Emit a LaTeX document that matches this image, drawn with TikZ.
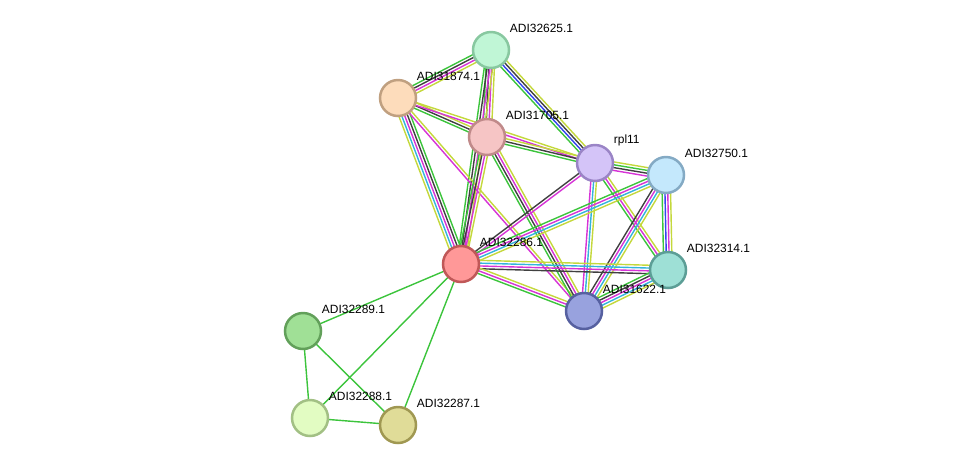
\documentclass[tikz,border=0pt]{standalone}
\usepackage{fontspec}
\newfontfamily\arialfont{Liberation Sans}
\usetikzlibrary{calc}

% evidence colours
\definecolor{nbr}{HTML}{3CC43C}
\definecolor{coex}{HTML}{404040}
\definecolor{expt}{HTML}{D633D6}
\definecolor{dbase}{HTML}{33B4DC}
\definecolor{txt}{HTML}{C4D83C}
\definecolor{cooc}{HTML}{3344EE}

\pgfdeclarelayer{background}
\pgfsetlayers{background,main}

% several parallel lines between two nodes, one per colour
\newcommand\link[3]{%
  \foreach \col [count=\k] in {#3}{\xdef\nlines{\k}}
  \foreach \col [count=\k] in {#3}{
    \pgfmathsetmacro\off{(\k-(\nlines+1)/2)*1.6}
    \draw[edge,\col] ($(#1.center)!\off pt!90:(#2.center)$) -- ($(#2.center)!\off pt!-90:(#1.center)$);
  }}

\begin{document}
\begin{tikzpicture}[x=0.02cm,y=-0.02cm,
    prot/.style = {circle, minimum size=0.72cm, inner sep=0pt, line width=0.05cm},
    tag/.style  = {anchor=south west, inner sep=0pt, xshift=0.1cm, yshift=0.06cm,
                   font=\arialfont\fontsize{6.8}{8}\selectfont},
    edge/.style = {line width=0.8pt}]

   \useasboundingbox (0,0) rectangle (975,471);

   % proteins
   \node[prot, fill={rgb,255:red,192;green,246;blue,214}, draw={rgb,255:red,136;green,200;blue,160},
         label={[tag]45:ADI32625.1}] (n32625) at (491,50) {};
   \node[prot, fill={rgb,255:red,253;green,220;blue,187}, draw={rgb,255:red,192;green,160;blue,128},
         label={[tag]45:ADI31874.1}] (n31874) at (398,98) {};
   \node[prot, fill={rgb,255:red,246;green,197;blue,197}, draw={rgb,255:red,192;green,138;blue,138},
         label={[tag]45:ADI31705.1}] (n31705) at (487,137) {};
   \node[prot, fill={rgb,255:red,212;green,196;blue,248}, draw={rgb,255:red,154;green,132;blue,198},
         label={[tag]45:rpl11}] (rpl) at (595,163) {};
   \node[prot, fill={rgb,255:red,196;green,232;blue,252}, draw={rgb,255:red,132;green,170;blue,196},
         label={[tag]45:ADI32750.1}] (n32750) at (666,175) {};
   \node[prot, fill={rgb,255:red,255;green,152;blue,152}, draw={rgb,255:red,192;green,88;blue,88},
         label={[tag]45:ADI32286.1}] (n32286) at (461,264) {};
   \node[prot, fill={rgb,255:red,158;green,224;blue,214}, draw={rgb,255:red,92;green,158;blue,150},
         label={[tag]45:ADI32314.1}] (n32314) at (668,270) {};
   \node[prot, fill={rgb,255:red,152;green,162;blue,222}, draw={rgb,255:red,86;green,96;blue,160},
         label={[tag]45:ADI31622.1}] (n31622) at (584,311) {};
   \node[prot, fill={rgb,255:red,160;green,224;blue,150}, draw={rgb,255:red,98;green,160;blue,90},
         label={[tag]45:ADI32289.1}] (n32289) at (303,331) {};
   \node[prot, fill={rgb,255:red,226;green,252;blue,194}, draw={rgb,255:red,162;green,192;blue,132},
         label={[tag]45:ADI32288.1}] (n32288) at (310,418) {};
   \node[prot, fill={rgb,255:red,224;green,220;blue,152}, draw={rgb,255:red,160;green,152;blue,82},
         label={[tag]45:ADI32287.1}] (n32287) at (398,425) {};

   % interactions
   \begin{pgfonlayer}{background}
      \link{n32625}{n31874}{nbr,coex,expt,txt}
      \link{n32625}{n31705}{nbr,coex,expt,txt}
      \link{n32625}{rpl}{nbr,cooc,coex,txt}
      \link{n32625}{n32286}{nbr,coex,expt,txt}
      \link{n31874}{n31705}{nbr,coex,txt}
      \link{n31874}{rpl}{expt,txt}
      \link{n31874}{n32286}{txt,dbase,expt,coex,nbr}
      \link{n31874}{n31622}{expt,txt}
      \link{n31705}{rpl}{nbr,coex,txt}
      \link{n31705}{n32286}{nbr,coex,expt,txt}
      \link{n31705}{n31622}{nbr,coex,expt,txt}
      \link{rpl}{n32750}{expt,coex,nbr,txt}
      \link{rpl}{n32286}{coex,expt}
      \link{rpl}{n31622}{expt,dbase,txt}
      \link{rpl}{n32314}{nbr,expt,txt}
      \link{n32750}{n32286}{nbr,expt,dbase,txt}
      \link{n32750}{n32314}{nbr,cooc,expt,txt}
      \link{n32750}{n31622}{coex,expt,dbase,txt}
      \link{n32286}{n32314}{coex,expt,dbase,txt}
      \link{n32286}{n31622}{nbr,expt,txt}
      \link{n32314}{n31622}{nbr,coex,expt,dbase,txt}
      \link{n32286}{n32289}{nbr}
      \link{n32286}{n32288}{nbr}
      \link{n32286}{n32287}{nbr}
      \link{n32289}{n32288}{nbr}
      \link{n32289}{n32287}{nbr}
      \link{n32288}{n32287}{nbr}
   \end{pgfonlayer}

\end{tikzpicture}
\end{document}
